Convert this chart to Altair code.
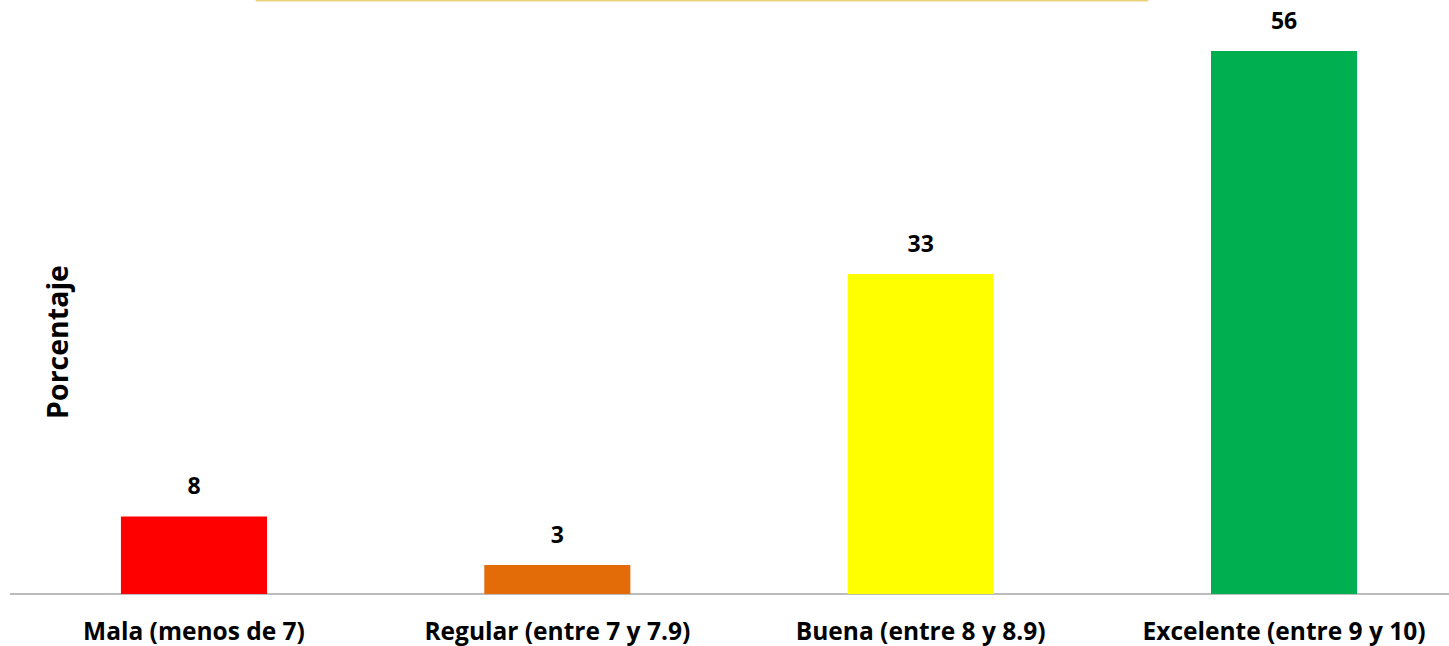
import altair as alt
import pandas as pd

categorias = ["Mala (menos de 7)", "Regular (entre 7 y 7.9)", "Buena (entre 8 y 8.9)", "Excelente (entre 9 y 10)"]
porcentajes = [8, 3, 33, 56]
colores = ["#FF0000", "#E36C09", "#FFFF00", "#00B050"]

df = pd.DataFrame({"categoria": categorias, "porcentaje": porcentajes, "color": colores})

FONT = "Open Sans"
W, H = 1420, 594
Y_MAX = 61.26

x = alt.X(
    "categoria:N",
    sort=categorias,
    scale=alt.Scale(paddingInner=0.598, paddingOuter=0.253),
    axis=alt.Axis(
        title=None, labelAngle=0, ticks=False, domain=False,
        labelFont=FONT, labelFontSize=24.5, labelFontWeight="bold",
        labelColor="#000000", labelPadding=26, labelLimit=0,
    ),
)
y = alt.Y("porcentaje:Q", scale=alt.Scale(domain=[0, Y_MAX], nice=False), axis=None)

base = alt.Chart(df)

bars = base.mark_bar().encode(x=x, y=y, color=alt.Color("color:N", scale=None))

etiquetas = base.mark_text(
    dy=-29, font=FONT, fontSize=23, fontWeight="bold", color="#000000", baseline="middle"
).encode(x=x, y=y, text="porcentaje:Q")

# baseline across the full width
linea_base = alt.Chart(pd.DataFrame({"v": [0]})).mark_rule(color="#A6A6A6", strokeWidth=1.5).encode(
    y=alt.Y("v:Q", scale=alt.Scale(domain=[0, Y_MAX], nice=False), axis=None),
    x=alt.value(-19), x2=alt.value(W),
)

# lower edge of the title frame
marco = alt.Chart(pd.DataFrame({"v": [0]})).mark_rule(
    color="#E8D27A", strokeWidth=3, strokeCap="round"
).encode(x=alt.value(228), x2=alt.value(1118), y=alt.value(0))

titulo_y = alt.Chart(pd.DataFrame({"t": ["Porcentaje"]})).mark_text(
    angle=270, font=FONT, fontSize=28.5, fontWeight="bold", color="#000000", baseline="middle"
).encode(x=alt.value(30), y=alt.value(342), text="t:N")

chart = alt.layer(linea_base, bars, etiquetas, marco, titulo_y).properties(
    width=W, height=H,
    padding={"left": 29, "top": 0, "right": 0, "bottom": 52},
    autosize=alt.AutoSizeParams(type="none"),
).configure(background="#FFFFFF").configure_view(stroke=None)

chart.save("out.html", embed_options={"renderer": "svg", "actions": False})
